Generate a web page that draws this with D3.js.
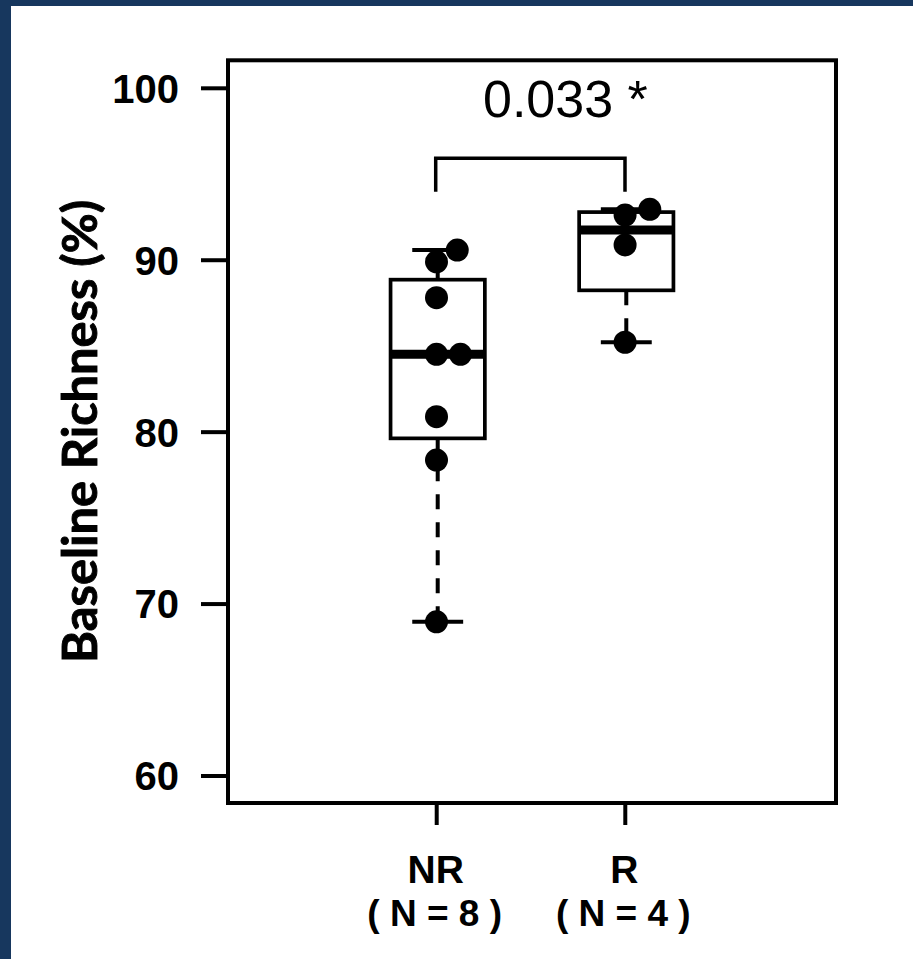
<!DOCTYPE html>
<html>
<head>
<meta charset="utf-8">
<script src="https://cdn.jsdelivr.net/npm/d3@7"></script>
<style>
  html, body { margin: 0; padding: 0; background: #ffffff; }
  svg { display: block; }
</style>
</head>
<body>
<svg id="chart" width="913" height="959"></svg>
<script>
// ---------- data ----------
const categories = ["NR", "R"];
const sampleLabels = ["( N = 8 )", "( N = 4 )"];
const nrValues = [90.56, 89.88, 87.79, 84.50, 84.50, 80.87, 78.35, 68.94];
const nrJitter = [0.11, 0, 0, 0, 0.127, 0, 0, 0];
const rValues  = [92.93, 92.60, 90.86, 85.20];
const rJitter  = [0.131, 0, 0, 0];
const whiskerLow  = [68.94, 85.20];
const boxQ1       = [79.61, 88.22];
const boxMedian   = [84.50, 91.73];
const boxQ3       = [88.84, 92.77];
const whiskerHigh = [90.56, 92.93];
const yTicks = [60, 70, 80, 90, 100];
const yTitle = "Baseline Richness (%)";
const pLabel = "0.033 *";
const bracketTop = 95.9;
const bracketLegEnd = 93.95;
const pLabelValue = 98.3;

// ---------- layout ----------
const svg = d3.select("#chart");
const plot = { left: 228, right: 836, top: 60.3, bottom: 803 };

svg.append("rect").attr("x", 0).attr("y", 0).attr("width", 913).attr("height", 959).attr("fill", "#ffffff");
svg.append("rect").attr("x", 0).attr("y", 0).attr("width", 11).attr("height", 959).attr("fill", "#17375e");
svg.append("rect").attr("x", 0).attr("y", 0).attr("width", 913).attr("height", 6).attr("fill", "#17375e");

const x = d3.scaleLinear().domain([-0.112, 3.112]).range([plot.left, plot.right]);
const y = d3.scaleLinear().domain([58.4, 101.6]).range([plot.bottom, plot.top]);

// ---------- y axis ----------
const yAxis = d3.axisLeft(y).tickValues(yTicks).tickSize(27).tickPadding(22).tickFormat(d3.format("d"));
const gy = svg.append("g").attr("transform", `translate(${plot.left},0)`).call(yAxis);
gy.select(".domain").remove();
gy.selectAll(".tick line").attr("stroke", "#000").attr("stroke-width", 4);
gy.selectAll(".tick text")
  .attr("font-family", "'Liberation Sans', Arial, sans-serif")
  .attr("font-weight", "bold").attr("font-size", 40).attr("fill", "#000")
  .attr("dy", "0.36em");

// ---------- x axis ----------
const xAxis = d3.axisBottom(x).tickValues([1, 2]).tickSize(22).tickFormat("");
const gx = svg.append("g").attr("transform", `translate(0,${plot.bottom})`).call(xAxis);
gx.select(".domain").remove();
gx.selectAll(".tick line").attr("stroke", "#000").attr("stroke-width", 4).attr("transform", "translate(-1.5,0)");

categories.forEach((c, i) => {
  svg.append("text").attr("x", x(i + 1) - 2).attr("y", 883)
    .attr("text-anchor", "middle")
    .attr("font-family", "'Liberation Sans', Arial, sans-serif")
    .attr("font-weight", "bold").attr("font-size", 39).attr("fill", "#000")
    .text(c);
  svg.append("text").attr("x", x(i + 1) - 3).attr("y", 926)
    .attr("text-anchor", "middle")
    .attr("font-family", "'Liberation Sans', Arial, sans-serif")
    .attr("font-weight", "bold").attr("font-size", 37).attr("fill", "#000")
    .text(sampleLabels[i]);
});

// ---------- y title ----------
svg.append("text")
  .attr("transform", "translate(97,431.5) rotate(-90)")
  .attr("text-anchor", "middle")
  .attr("font-family", "Lato, 'Open Sans', sans-serif")
  .attr("font-weight", "bold").attr("font-size", 48).attr("fill", "#000")
  .attr("stroke", "#000").attr("stroke-width", 0.9)
  .attr("textLength", 463).attr("lengthAdjust", "spacingAndGlyphs")
  .text(yTitle);

// ---------- boxes ----------
const halfBox = 0.25, halfCap = 0.135;
const g = svg.append("g");
categories.forEach((c, i) => {
  const cx = i + 1;
  g.append("line").attr("x1", x(cx)).attr("x2", x(cx))
    .attr("y1", y(boxQ1[i])).attr("y2", y(whiskerLow[i]))
    .attr("stroke", "#000").attr("stroke-width", 4).attr("stroke-dasharray", "15,13");
  g.append("line").attr("x1", x(cx)).attr("x2", x(cx))
    .attr("y1", y(boxQ3[i])).attr("y2", y(whiskerHigh[i]))
    .attr("stroke", "#000").attr("stroke-width", 4).attr("stroke-dasharray", "15,13");
  [whiskerLow[i], whiskerHigh[i]].forEach(v => {
    g.append("line").attr("x1", x(cx - halfCap)).attr("x2", x(cx + halfCap))
      .attr("y1", y(v)).attr("y2", y(v)).attr("stroke", "#000").attr("stroke-width", 4);
  });
  g.append("rect").attr("x", x(cx - halfBox)).attr("width", x(cx + halfBox) - x(cx - halfBox))
    .attr("y", y(boxQ3[i])).attr("height", y(boxQ1[i]) - y(boxQ3[i]))
    .attr("fill", "#fff").attr("stroke", "#000").attr("stroke-width", 3.7);
  g.append("line").attr("x1", x(cx - halfBox)).attr("x2", x(cx + halfBox))
    .attr("y1", y(boxMedian[i])).attr("y2", y(boxMedian[i]))
    .attr("stroke", "#000").attr("stroke-width", 9);
});

// ---------- points ----------
const pts = [];
nrValues.forEach((v, k) => pts.push({ x: 1 + nrJitter[k], v }));
rValues.forEach((v, k) => pts.push({ x: 2 + rJitter[k], v }));
g.selectAll("circle.pt").data(pts).enter().append("circle")
  .attr("class", "pt")
  .attr("cx", d => x(d.x) - 1.2).attr("cy", d => y(d.v)).attr("r", 11.5).attr("fill", "#000");

// ---------- significance bracket ----------
const bracket = d3.line()([
  [x(1) - 2, y(bracketLegEnd)], [x(1) - 2, y(bracketTop)],
  [x(2) - 1.3, y(bracketTop)], [x(2) - 1.3, y(bracketLegEnd)]
]);
svg.append("path").attr("d", bracket).attr("fill", "none").attr("stroke", "#000").attr("stroke-width", 3.5);
svg.append("text").attr("x", 483).attr("y", y(pLabelValue))
  .attr("font-family", "'Liberation Sans', Arial, sans-serif")
  .attr("font-size", 52).attr("fill", "#000")
  .text(pLabel);

// ---------- frame ----------
svg.append("rect").attr("x", plot.left).attr("y", plot.top)
  .attr("width", plot.right - plot.left).attr("height", plot.bottom - plot.top)
  .attr("fill", "none").attr("stroke", "#000").attr("stroke-width", 4);
</script>
</body>
</html>
